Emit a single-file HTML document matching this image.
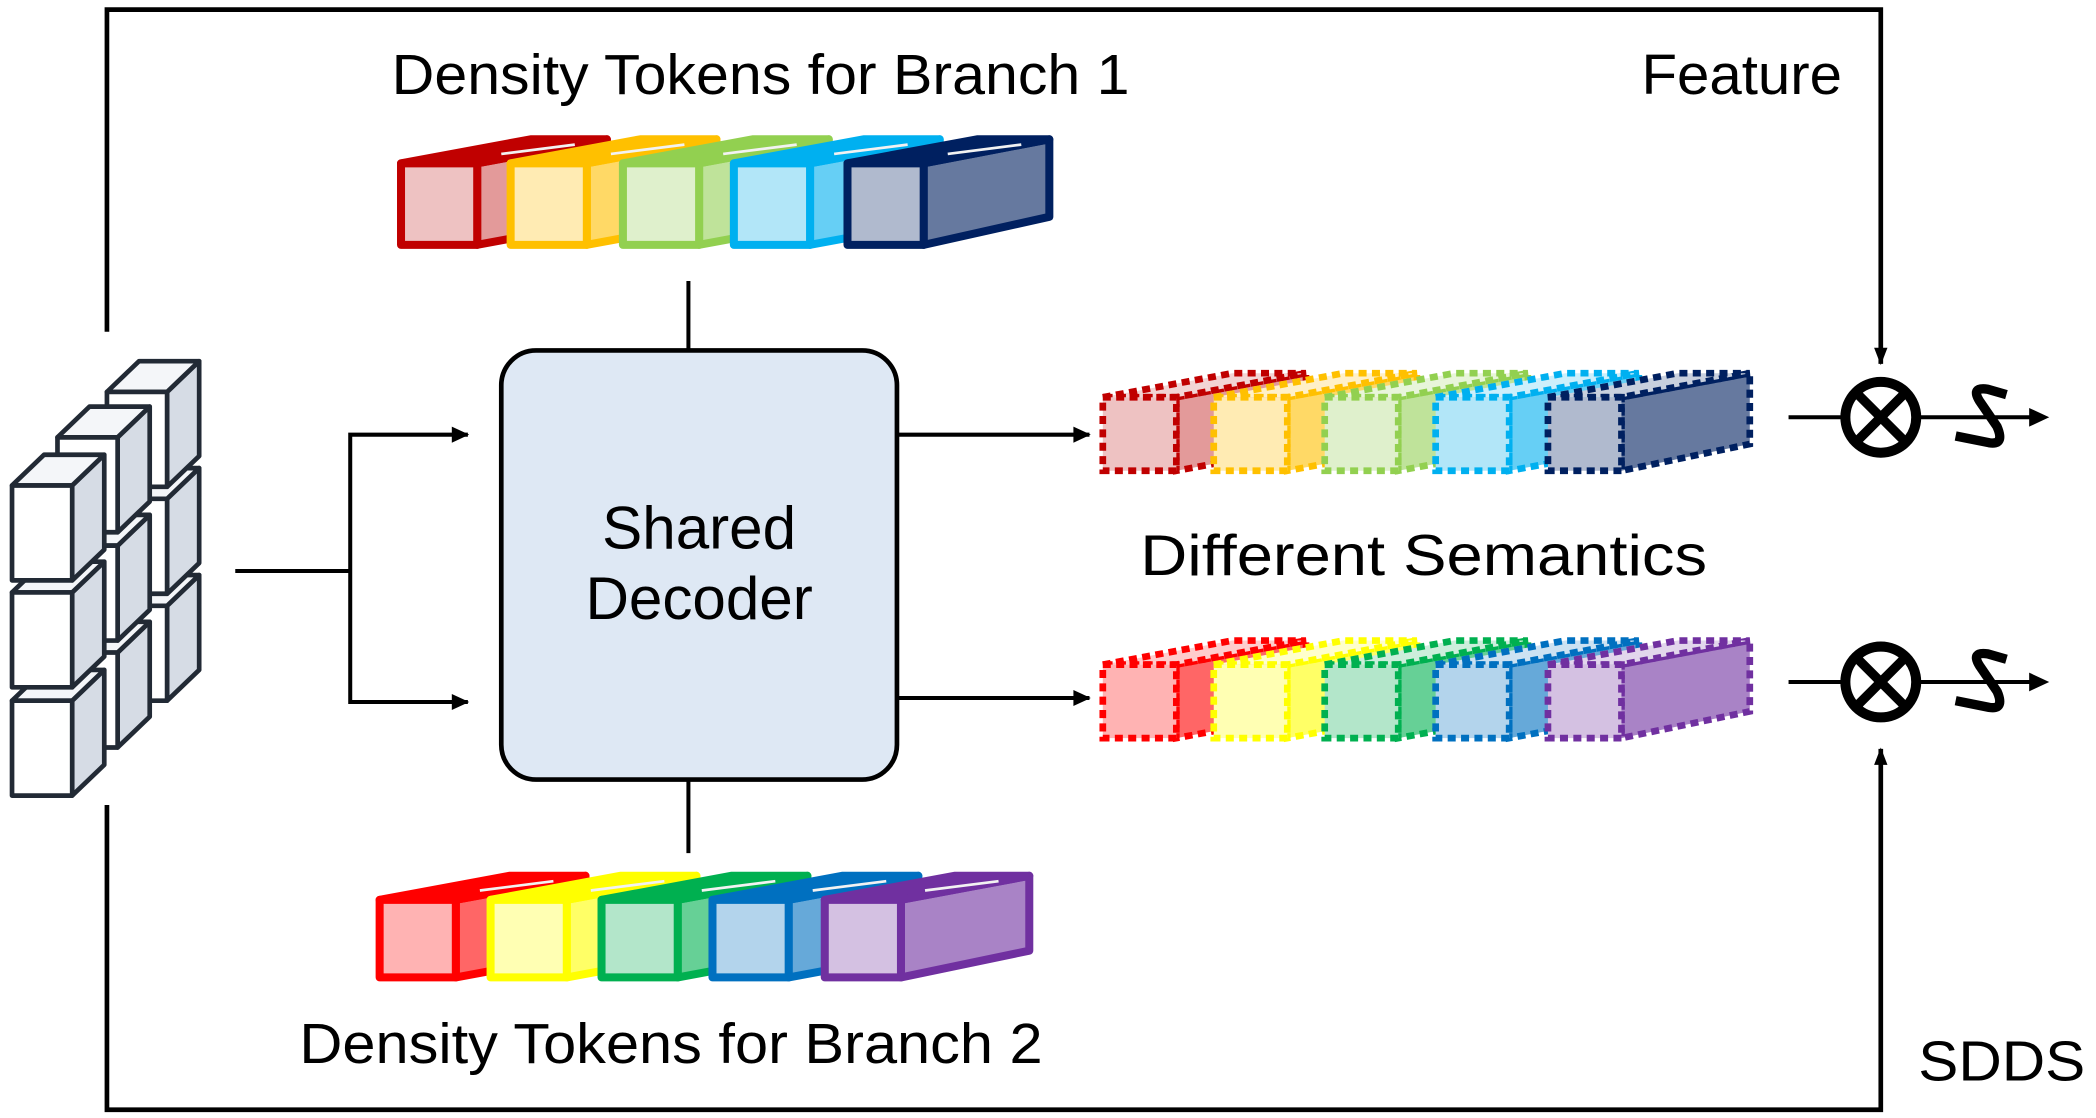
<!DOCTYPE html>
<html><head><meta charset="utf-8"><style>
html,body{margin:0;padding:0;background:#fff;}
svg{display:block;}
text{font-family:"Liberation Sans",sans-serif;fill:#000;}
</style></head><body>
<svg width="2096" height="1118" viewBox="0 0 1568 836" xmlns="http://www.w3.org/2000/svg">
<rect width="1568" height="836" fill="#fff"/>

<!-- outer frame -->
<polyline points="80,248 80,7 1407,7 1407,272" fill="none" stroke="#000" stroke-width="3.5"/>
<path d="M1402,260 L1407,273 L1412,260 z" fill="#000"/>
<polyline points="80,602 80,830 1407,830 1407,560" fill="none" stroke="#000" stroke-width="3.5"/>
<path d="M1402,572 L1407,559 L1412,572 z" fill="#000"/>

<text x="1228" y="70" font-size="42" textLength="150" lengthAdjust="spacingAndGlyphs">Feature</text>
<text x="293" y="70" font-size="42" textLength="552" lengthAdjust="spacingAndGlyphs">Density Tokens for Branch 1</text>
<text x="224" y="795" font-size="42" textLength="556" lengthAdjust="spacingAndGlyphs">Density Tokens for Branch 2</text>
<text x="853" y="430" font-size="43" textLength="424" lengthAdjust="spacingAndGlyphs">Different Semantics</text>
<text x="1435" y="808" font-size="42" textLength="125" lengthAdjust="spacingAndGlyphs">SDDS</text>

<!-- cubes -->
<g stroke="#222A35" stroke-width="3.5" stroke-linejoin="round">
 <g transform="translate(80,453)"><polygon points="45,0 69,-23 69,48 45,71" fill="#D6DCE5"/><polygon points="0,0 24,-23 69,-23 45,0" fill="#F4F6F9"/><rect x="0" y="0" width="45" height="71" fill="#fff"/></g>
 <g transform="translate(80,373)"><polygon points="45,0 69,-23 69,48 45,71" fill="#D6DCE5"/><polygon points="0,0 24,-23 69,-23 45,0" fill="#F4F6F9"/><rect x="0" y="0" width="45" height="71" fill="#fff"/></g>
 <g transform="translate(80,293)"><polygon points="45,0 69,-23 69,48 45,71" fill="#D6DCE5"/><polygon points="0,0 24,-23 69,-23 45,0" fill="#F4F6F9"/><rect x="0" y="0" width="45" height="71" fill="#fff"/></g>

 <g transform="translate(43,488)"><polygon points="45,0 69,-23 69,48 45,71" fill="#D6DCE5"/><polygon points="0,0 24,-23 69,-23 45,0" fill="#F4F6F9"/><rect x="0" y="0" width="45" height="71" fill="#fff"/></g>
 <g transform="translate(43,408)"><polygon points="45,0 69,-23 69,48 45,71" fill="#D6DCE5"/><polygon points="0,0 24,-23 69,-23 45,0" fill="#F4F6F9"/><rect x="0" y="0" width="45" height="71" fill="#fff"/></g>
 <g transform="translate(43,327)"><polygon points="45,0 69,-23 69,48 45,71" fill="#D6DCE5"/><polygon points="0,0 24,-23 69,-23 45,0" fill="#F4F6F9"/><rect x="0" y="0" width="45" height="71" fill="#fff"/></g>

 <g transform="translate(9,524)"><polygon points="45,0 69,-23 69,48 45,71" fill="#D6DCE5"/><polygon points="0,0 24,-23 69,-23 45,0" fill="#F4F6F9"/><rect x="0" y="0" width="45" height="71" fill="#fff"/></g>
 <g transform="translate(9,443)"><polygon points="45,0 69,-23 69,48 45,71" fill="#D6DCE5"/><polygon points="0,0 24,-23 69,-23 45,0" fill="#F4F6F9"/><rect x="0" y="0" width="45" height="71" fill="#fff"/></g>
 <g transform="translate(9,363)"><polygon points="45,0 69,-23 69,48 45,71" fill="#D6DCE5"/><polygon points="0,0 24,-23 69,-23 45,0" fill="#F4F6F9"/><rect x="0" y="0" width="45" height="71" fill="#fff"/></g>
</g>

<!-- connectors left -->
<g stroke="#000" stroke-width="3" fill="none">
<line x1="176" y1="427" x2="262" y2="427"/>
<polyline points="350,325 262,325 262,525 350,525"/>
<line x1="671" y1="325" x2="815" y2="325"/>
<line x1="671" y1="522" x2="815" y2="522"/>
<line x1="515" y1="210" x2="515" y2="262"/>
<line x1="515" y1="583" x2="515" y2="638"/>
</g>
<path d="M338,319 L351,325 L338,331 z" fill="#000"/>
<path d="M338,519 L351,525 L338,531 z" fill="#000"/>
<path d="M803,319 L816,325 L803,331 z" fill="#000"/>
<path d="M803,516 L816,522 L803,528 z" fill="#000"/>

<!-- decoder -->
<rect x="375" y="262" width="296" height="321" rx="26" fill="#DEE8F4" stroke="#000" stroke-width="3.5"/>
<text x="523" y="410" font-size="45" text-anchor="middle">Shared</text>
<text x="523" y="463" font-size="45" text-anchor="middle">Decoder</text>

<!-- top tokens -->
<g stroke-width="6" stroke-linejoin="round">
<g transform="translate(300,122)" stroke="#C00000"><polygon points="57,0 154,-18 154,43 57,61" fill="#E39A9A"/><polygon points="0,0 97,-18 154,-18 57,0" fill="#C00000"/><line x1="75" y1="-7" x2="130" y2="-14" stroke="#f2f2f2" stroke-width="2"/><rect x="0" y="0" width="57" height="61" fill="#EEC2C2"/></g>
<g transform="translate(382,122)" stroke="#FFC000"><polygon points="57,0 154,-18 154,43 57,61" fill="#FFD966"/><polygon points="0,0 97,-18 154,-18 57,0" fill="#FFC000"/><line x1="75" y1="-7" x2="130" y2="-14" stroke="#f2f2f2" stroke-width="2"/><rect x="0" y="0" width="57" height="61" fill="#FFEBB3"/></g>
<g transform="translate(466,122)" stroke="#92D050"><polygon points="57,0 154,-18 154,43 57,61" fill="#BFE39A"/><polygon points="0,0 97,-18 154,-18 57,0" fill="#92D050"/><line x1="75" y1="-7" x2="130" y2="-14" stroke="#f2f2f2" stroke-width="2"/><rect x="0" y="0" width="57" height="61" fill="#DFF0CC"/></g>
<g transform="translate(549,122)" stroke="#00B0F0"><polygon points="57,0 154,-18 154,43 57,61" fill="#66CFF5"/><polygon points="0,0 97,-18 154,-18 57,0" fill="#00B0F0"/><line x1="75" y1="-7" x2="130" y2="-14" stroke="#f2f2f2" stroke-width="2"/><rect x="0" y="0" width="57" height="61" fill="#B2E6F8"/></g>
<g transform="translate(634,122)" stroke="#002060"><polygon points="57,0 151,-18 151,40 57,61" fill="#66799F"/><polygon points="0,0 97,-18 151,-18 57,0" fill="#002060"/><line x1="75" y1="-7" x2="130" y2="-14" stroke="#f2f2f2" stroke-width="2"/><rect x="0" y="0" width="57" height="61" fill="#B0BACE"/></g>
</g>

<!-- bottom tokens -->
<g stroke-width="6" stroke-linejoin="round">
<g transform="translate(284,673)" stroke="#FF0000"><polygon points="57,0 154,-18 154,40 57,58" fill="#FF6666"/><polygon points="0,0 97,-18 154,-18 57,0" fill="#FF0000"/><line x1="75" y1="-7" x2="130" y2="-14" stroke="#f2f2f2" stroke-width="2"/><rect x="0" y="0" width="57" height="58" fill="#FFB3B3"/></g>
<g transform="translate(367,673)" stroke="#FFFF00"><polygon points="57,0 154,-18 154,40 57,58" fill="#FFFF66"/><polygon points="0,0 97,-18 154,-18 57,0" fill="#FFFF00"/><line x1="75" y1="-7" x2="130" y2="-14" stroke="#f2f2f2" stroke-width="2"/><rect x="0" y="0" width="57" height="58" fill="#FFFFB3"/></g>
<g transform="translate(450,673)" stroke="#00B050"><polygon points="57,0 154,-18 154,40 57,58" fill="#66D096"/><polygon points="0,0 97,-18 154,-18 57,0" fill="#00B050"/><line x1="75" y1="-7" x2="130" y2="-14" stroke="#f2f2f2" stroke-width="2"/><rect x="0" y="0" width="57" height="58" fill="#B3E6CA"/></g>
<g transform="translate(533,673)" stroke="#0070C0"><polygon points="57,0 154,-18 154,40 57,58" fill="#66A9D9"/><polygon points="0,0 97,-18 154,-18 57,0" fill="#0070C0"/><line x1="75" y1="-7" x2="130" y2="-14" stroke="#f2f2f2" stroke-width="2"/><rect x="0" y="0" width="57" height="58" fill="#B3D4EC"/></g>
<g transform="translate(617,673)" stroke="#7030A0"><polygon points="57,0 153,-18 153,38 57,58" fill="#A983C6"/><polygon points="0,0 97,-18 153,-18 57,0" fill="#7030A0"/><line x1="75" y1="-7" x2="130" y2="-14" stroke="#f2f2f2" stroke-width="2"/><rect x="0" y="0" width="57" height="58" fill="#D4C1E2"/></g>
</g>

<!-- dashed row 1 -->
<g stroke-width="5" stroke-dasharray="6 4">
<g transform="translate(825,297)" stroke="#C00000"><polygon points="55,0 152,-18 152,37 55,55" fill="#E39A9A"/><polygon points="0,0 97,-18 152,-18 55,0" fill="#F2D4D4"/><rect x="0" y="0" width="55" height="55" fill="#EEC2C2"/></g>
<g transform="translate(908,297)" stroke="#FFC000"><polygon points="55,0 152,-18 152,37 55,55" fill="#FFD966"/><polygon points="0,0 97,-18 152,-18 55,0" fill="#FFF0C8"/><rect x="0" y="0" width="55" height="55" fill="#FFEBB3"/></g>
<g transform="translate(991,297)" stroke="#92D050"><polygon points="55,0 152,-18 152,37 55,55" fill="#BFE39A"/><polygon points="0,0 97,-18 152,-18 55,0" fill="#E8F5DA"/><rect x="0" y="0" width="55" height="55" fill="#DFF0CC"/></g>
<g transform="translate(1074,297)" stroke="#00B0F0"><polygon points="55,0 152,-18 152,37 55,55" fill="#66CFF5"/><polygon points="0,0 97,-18 152,-18 55,0" fill="#CCEFFB"/><rect x="0" y="0" width="55" height="55" fill="#B2E6F8"/></g>
<g transform="translate(1158,297)" stroke="#002060"><polygon points="55,0 151,-18 151,35 55,55" fill="#66799F"/><polygon points="0,0 97,-18 151,-18 55,0" fill="#C8D0DE"/><rect x="0" y="0" width="55" height="55" fill="#B0BACE"/></g>
</g>
<!-- dashed row 2 -->
<g stroke-width="5" stroke-dasharray="6 4">
<g transform="translate(825,497)" stroke="#FF0000"><polygon points="55,0 152,-18 152,37 55,55" fill="#FF6666"/><polygon points="0,0 97,-18 152,-18 55,0" fill="#FFCCCC"/><rect x="0" y="0" width="55" height="55" fill="#FFB3B3"/></g>
<g transform="translate(908,497)" stroke="#FFFF00"><polygon points="55,0 152,-18 152,37 55,55" fill="#FFFF66"/><polygon points="0,0 97,-18 152,-18 55,0" fill="#FFFFCC"/><rect x="0" y="0" width="55" height="55" fill="#FFFFB3"/></g>
<g transform="translate(991,497)" stroke="#00B050"><polygon points="55,0 152,-18 152,37 55,55" fill="#66D096"/><polygon points="0,0 97,-18 152,-18 55,0" fill="#CCEEDC"/><rect x="0" y="0" width="55" height="55" fill="#B3E6CA"/></g>
<g transform="translate(1074,497)" stroke="#0070C0"><polygon points="55,0 152,-18 152,37 55,55" fill="#66A9D9"/><polygon points="0,0 97,-18 152,-18 55,0" fill="#CCE2F2"/><rect x="0" y="0" width="55" height="55" fill="#B3D4EC"/></g>
<g transform="translate(1158,497)" stroke="#7030A0"><polygon points="55,0 151,-18 151,35 55,55" fill="#A983C6"/><polygon points="0,0 97,-18 151,-18 55,0" fill="#E2D6EC"/><rect x="0" y="0" width="55" height="55" fill="#D4C1E2"/></g>
</g>

<!-- multipliers -->
<g stroke="#000" fill="none">
<line x1="1338" y1="312" x2="1522" y2="312" stroke-width="3"/>
<line x1="1338" y1="510" x2="1522" y2="510" stroke-width="3"/>
<circle cx="1407" cy="312" r="26.5" stroke-width="7.5" fill="#fff"/>
<circle cx="1407" cy="510" r="26.5" stroke-width="7.5" fill="#fff"/>
<path d="M1390,295 L1424,329 M1424,295 L1390,329" stroke-width="7"/>
<path d="M1390,493 L1424,527 M1424,493 L1390,527" stroke-width="7"/>
<path d="M1463,326 L1488,331 Q1500,333 1494,319 L1481,300 Q1474,289 1487,291 L1501,295" stroke-width="7" stroke-linejoin="round"/>
<path d="M1463,524 L1488,529 Q1500,531 1494,517 L1481,498 Q1474,487 1487,489 L1501,493" stroke-width="7" stroke-linejoin="round"/>
</g>
<path d="M1518,305 L1533,312 L1518,319 z" fill="#000"/>
<path d="M1518,503 L1533,510 L1518,517 z" fill="#000"/>
</svg>
</body></html>
